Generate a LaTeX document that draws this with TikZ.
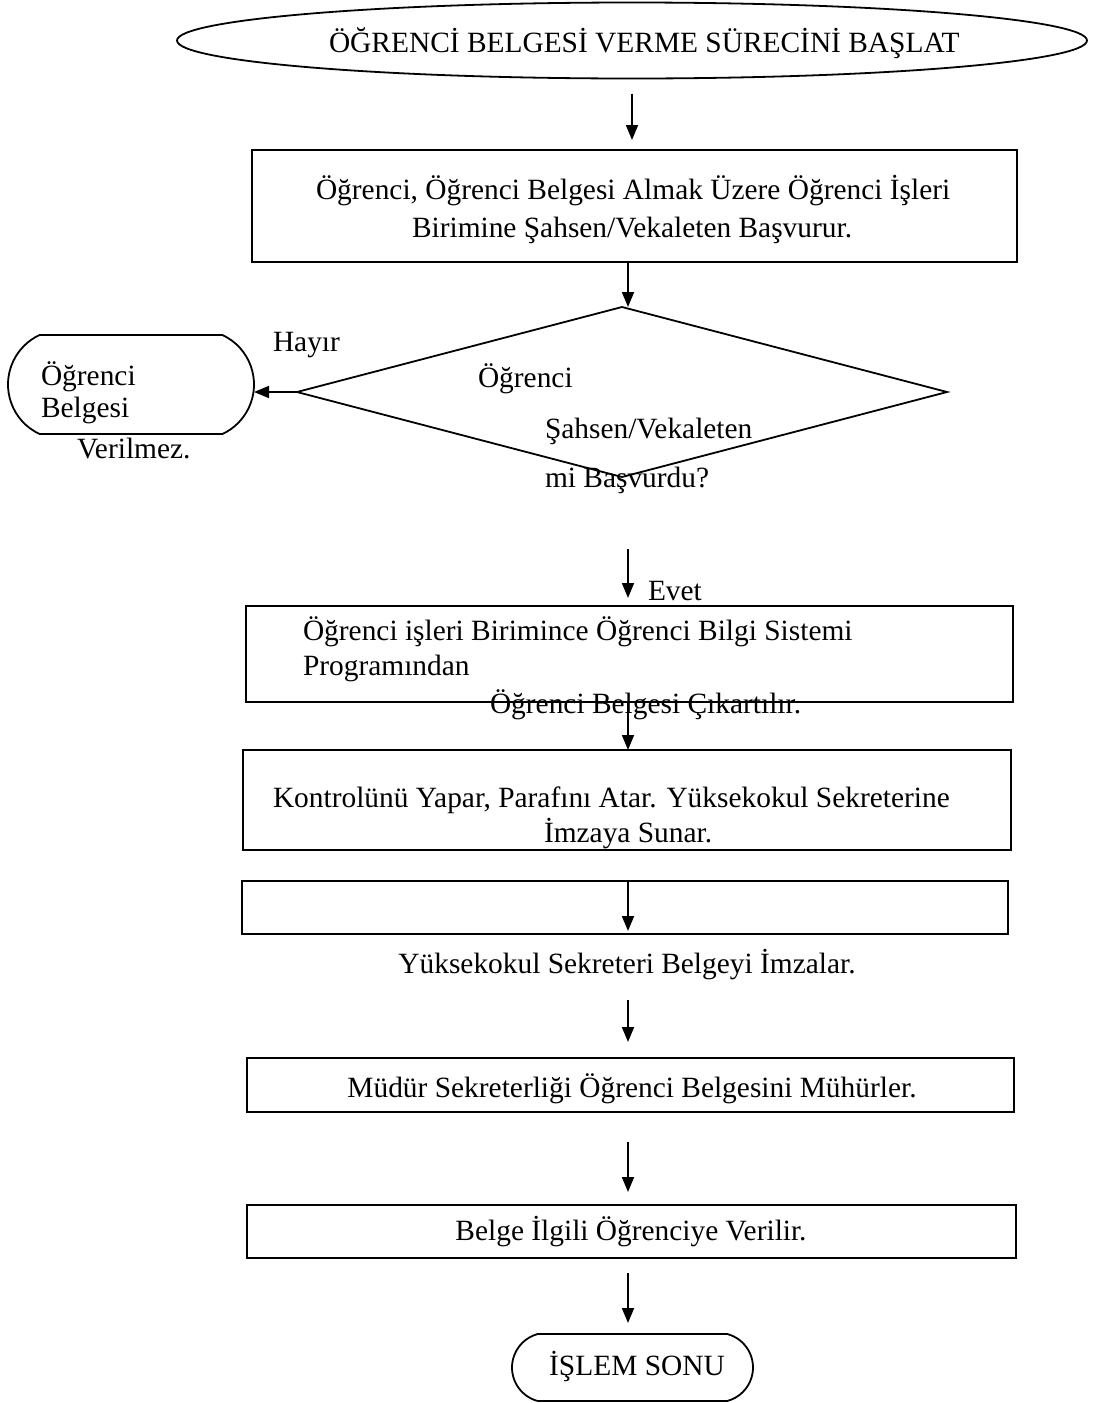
\documentclass[tikz,border=0pt]{standalone}
\usepackage{fontspec}
\setmainfont{Liberation Serif}
\usetikzlibrary{arrows.meta,shapes.geometric,shapes.misc,calc}

\begin{document}
\begin{tikzpicture}[x=1pt,y=-1pt,
  every node/.style={inner sep=0pt, outer sep=0pt},
  lw/.style={line width=1.8pt},
  txt/.style={font=\fontsize{29.4}{38}\selectfont, anchor=base west},
  ctxt/.style={font=\fontsize{29.4}{38}\selectfont, anchor=base},
  procbox/.style={draw, lw, rectangle},
  termbox/.style={draw, lw, rounded rectangle},
  arr/.style={lw, -{Triangle[length=15pt,width=12pt]}}
]
\useasboundingbox (0,0) rectangle (1098,1403);

% main flow axis
\coordinate (ax) at (628,0);

% start
\node[draw, lw, ellipse, minimum width=910pt, minimum height=76pt] (start) at (632,40.5) {};
\node[txt] (startT) at (329,52) {ÖĞRENCİ BELGESİ VERME SÜRECİNİ BAŞLAT};

% application
\node[procbox, minimum width=765pt, minimum height=112pt] (box1) at (634.5,206) {};
\node[txt] (b1a) at (316,199) {Öğrenci, Öğrenci Belgesi Almak Üzere Öğrenci İşleri};
\node[txt] (b1b) at (412,237) {Birimine Şahsen/Vekaleten Başvurur.};

% decision
\node[draw, lw, diamond, minimum width=650pt, minimum height=170pt] (dec) at (622,392) {};
\node[txt] (d1) at (478,387) {Öğrenci};
\node[txt] (d2) at (545,438) {Şahsen/Vekaleten};
\node[txt] (d3) at (545,487) {mi Başvurdu?};

% rejection terminal
\node[termbox, rounded rectangle arc length=130, minimum width=246pt, minimum height=99pt] (no) at (131,384.5) {};
\node[txt] (n1) at (41,385) {Öğrenci};
\node[txt] (n2) at (41,417) {Belgesi};
\node[txt] (n3) at (77,458) {Verilmez.};
\node[txt] (hayir) at (273,351) {Hayır};
\node[txt] (evet) at (648,600) {Evet};

% document preparation
\node[procbox, minimum width=767pt, minimum height=96pt] (box2) at (629.5,654) {};
\node[txt] (b2a) at (303,640) {Öğrenci işleri Birimince Öğrenci Bilgi Sistemi};
\node[txt] (b2b) at (303,675) {Programından};
\node[txt] (b2c) at (490,713) {Öğrenci Belgesi Çıkartılır.};

\node[procbox, minimum width=768pt, minimum height=100pt] (box3) at (627,800) {};
\node[txt] (b3a) at (273,807) {Kontrolünü Yapar, Parafını Atar. Yüksekokul Sekreterine};
\node[txt] (b3b) at (544,842) {İmzaya Sunar.};

\node[procbox, minimum width=766pt, minimum height=53pt] (box4) at (625,907.5) {};
\node[ctxt] (b4) at (627,973) {Yüksekokul Sekreteri Belgeyi İmzalar.};

\node[procbox, minimum width=767pt, minimum height=54pt] (box5) at (630.5,1085) {};
\node[ctxt] (b5) at (632,1097) {Müdür Sekreterliği Öğrenci Belgesini Mühürler.};

\node[procbox, minimum width=769pt, minimum height=53pt] (box6) at (631.5,1231.5) {};
\node[ctxt] (b6) at (631,1240) {Belge İlgili Öğrenciye Verilir.};

% end
\node[termbox, rounded rectangle arc length=150, minimum width=241pt, minimum height=67pt] (end) at (632.5,1367.5) {};
\node[ctxt] (endT) at (637,1375) {İŞLEM SONU};

% connectors
\draw[arr, shorten <=15pt, shorten >=10pt] (start.south) -- (start.south |- box1.north);
\draw[arr] (box1.south -| ax) -- (dec.north -| ax);
\draw[arr] (dec.west) -- (no.east |- dec.west);
\draw[arr, shorten <=72pt, shorten >=8pt] (dec.south -| ax) -- (box2.north -| ax);
\draw[arr] (box2.south -| ax) -- (box3.north -| ax);
\draw[arr, shorten >=3pt] (box4.north -| ax) -- (box4.south -| ax);
\draw[arr, shorten <=66pt, shorten >=16pt] (box4.south -| ax) -- (box5.north -| ax);
\draw[arr, shorten <=30pt, shorten >=13pt] (box5.south -| ax) -- (box6.north -| ax);
\draw[arr, shorten <=15pt, shorten >=11pt] (box6.south -| ax) -- (end.north -| ax);
\end{tikzpicture}
\end{document}
